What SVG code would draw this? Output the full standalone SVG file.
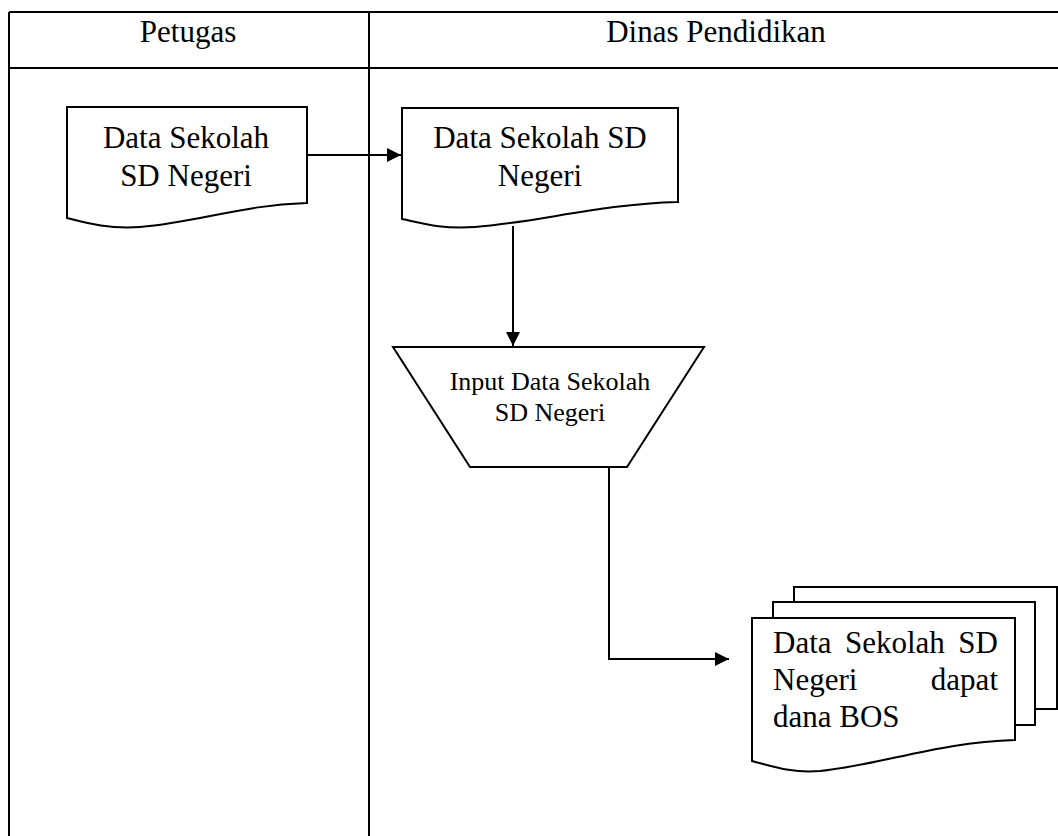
<svg xmlns="http://www.w3.org/2000/svg" width="1058" height="836" viewBox="0 0 1058 836">
<style>
.ln{fill:none;stroke:#000;stroke-width:2}
.sh{fill:#fff;stroke:#000;stroke-width:2}
.t{font-family:"Liberation Serif","Times New Roman",serif;font-size:31px;fill:#000}
.ts{font-family:"Liberation Serif","Times New Roman",serif;font-size:26px;fill:#000}
.c{text-anchor:middle}
</style>
<defs>
<marker id="ah" viewBox="0 0 10 10" refX="10" refY="5" markerWidth="14" markerHeight="14" markerUnits="userSpaceOnUse" orient="auto">
<path d="M0,0 L10,5 L0,10 z" fill="#000"/>
</marker>
</defs>
<rect width="1058" height="836" fill="#fff"/>
<g id="table">
<path class="ln" d="M9,12 H1060 M9,68 H1060 M9,12 V836 M369,12 V836"/>
<text class="t c" x="188" y="42">Petugas</text>
<text class="t c" x="716" y="42">Dinas Pendidikan</text>
</g>
<g id="connectors">
<path class="ln" d="M307,155 H401" marker-end="url(#ah)"/>
<path class="ln" d="M513,226 V346" marker-end="url(#ah)"/>
<path class="ln" d="M609,467 V659 H729" marker-end="url(#ah)"/>
</g>
<g id="doc-petugas">
<path class="sh" d="M67,107 H307 V203 C240,205 200,222 140,227 C110,229 90,224 67,218 Z"/>
<text class="t c" x="186" y="148">Data Sekolah</text>
<text class="t c" x="186" y="186">SD Negeri</text>
</g>
<g id="doc-dinas">
<path class="sh" d="M402,108 H678 V202 C600,204 540,222 475,227 C440,229 425,224 402,219 Z"/>
<text class="t c" x="540" y="148">Data Sekolah SD</text>
<text class="t c" x="540" y="186">Negeri</text>
</g>
<g id="input">
<path class="sh" d="M393,347 H704 L627,467 H470 Z"/>
<text class="ts c" x="550" y="390">Input Data Sekolah</text>
<text class="ts c" x="550" y="421">SD Negeri</text>
</g>
<g id="multidoc">
<path class="sh" d="M794,602 V587 H1057 V709 H1035"/>
<path class="sh" d="M773,618 V602 H1035 V725 H1015"/>
<path class="sh" d="M752,618 H1015 V740 C940,742 880,765 820,771 C790,773 775,767 752,761 Z"/>
<text class="t" x="773" y="653">Data</text>
<text class="t" x="845" y="653">Sekolah</text>
<text class="t" x="998" y="653" text-anchor="end">SD</text>
<text class="t" x="773" y="690">Negeri</text>
<text class="t" x="998" y="690" text-anchor="end">dapat</text>
<text class="t" x="773" y="727">dana BOS</text>
</g>
</svg>
